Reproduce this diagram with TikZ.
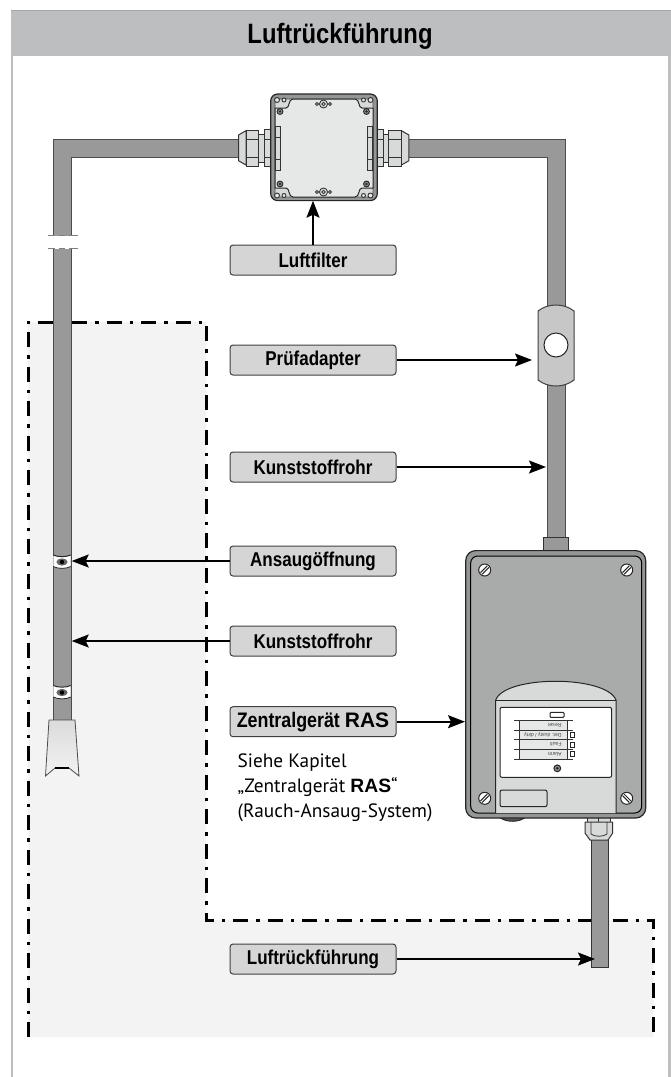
\documentclass[tikz,border=0pt]{standalone}
\usepackage{fontspec}
\usetikzlibrary{arrows.meta}
\setmainfont{Liberation Sans}
\newfontfamily\narrowf[FakeStretch=0.85]{Liberation Sans}
\newfontfamily\bodyf{PT Sans}
\definecolor{framegray}{HTML}{BDBEC0}
\definecolor{zonegray}{HTML}{F3F3F3}
\definecolor{pipegray}{HTML}{999999}
\definecolor{lablgray}{HTML}{D4D5D4}
\definecolor{casegray}{HTML}{A9ABAA}
\definecolor{bandgray}{HTML}{949695}
\definecolor{lightgray2}{HTML}{E6E7E7}
\definecolor{glandgray}{HTML}{D8D9D9}
\tikzset{
  x=1pt,y=-1pt,
  lbl/.style={draw=black!75,line width=1pt,fill=lablgray,rounded corners=3pt,minimum width=166pt,minimum height=30pt,inner sep=0pt,font=\narrowf\bfseries\fontsize{20}{24}\selectfont,text=black},
  callout/.style={line width=1.7pt,-{Stealth[length=17pt,width=13pt,inset=3pt]}},
  pipeline/.style={draw=black!70,line width=1pt},
  zoneline/.style={line width=3pt,dash pattern=on 15pt off 8pt on 3.5pt off 8pt},
  part/.style={draw=black!80,line width=1pt,fill=glandgray},
  hole/.style={draw=black!80,line width=.9pt,fill=lightgray2},
  tinytext/.style={font=\fontsize{5.1}{6}\selectfont,rotate=180,anchor=west,inner sep=0pt,text=black!75},
  pics/slotscrew/.style={code={
    \draw[line width=1pt,black!85,fill=white] (0,0) circle (6);
    \draw[line width=1pt,black!85] (-4.2,2.6)--(2.6,-4.2) (-2.6,4.2)--(4.2,-2.6);
  }},
  pics/slotscrewb/.style={code={
    \draw[line width=1pt,black!85,fill=white] (0,0) circle (6);
    \draw[line width=1pt,black!85] (4.2,2.6)--(-2.6,-4.2) (2.6,4.2)--(-4.2,-2.6);
  }},
  pics/bushole/.style={code={
    \draw[hole] (0,0) circle (4);
    \draw[hole] (0,0) circle (1.8);
    \draw[hole] (-6.5,0) circle (1.4);
    \draw[hole] (6.5,0) circle (1.4);
  }},
  pics/airhole/.style={code={
    \fill[white] (-8.7,-7) .. controls (-4,-4.8) and (4,-4.8) .. (8.7,-7) -- (8.7,4.5) .. controls (4,7) and (-4,7) .. (-8.7,4.5) -- cycle;
    \draw[black!85,line width=1pt] (-8.7,-7) .. controls (-4,-4.8) and (4,-4.8) .. (8.7,-7);
    \draw[black!85,line width=.8pt] (-8.7,4.5) .. controls (-4,7) and (4,7) .. (8.7,4.5);
    \fill[black!60] (0,0) ellipse (5.6 and 3.6);
    \fill[black] (0,0) circle (2.2);
  }}
}
\begin{document}
\begin{tikzpicture}
\useasboundingbox (0,0) rectangle (671,1077);
\fill[white] (0,0) rectangle (671,1077);
% frame and header
\fill[framegray] (11,11) rectangle (671,56);
\draw[framegray,line width=2.6pt] (12,11)--(12,1077) (669.7,11)--(669.7,1077);
\draw[black!35,line width=1pt] (11,10.5)--(671,10.5);
\node (title) at (340,36) [font=\narrowf\bfseries\fontsize{28}{32}\selectfont,inner sep=0pt] {Luftrückführung};
% zone
\fill[zonegray] (28,322)--(206,322)--(206,920)--(653.5,920)--(653.5,1037)--(28,1037)--cycle;
\draw[zoneline] (28,1037)--(28,322)--(206,322)--(206,920)--(653.5,920)--(653.5,1037);
% upper pipe
\path[fill=pipegray] (240,139.5)--(53,139.5)--(53,730)--(71,730)--(71,157.5)--(240,157.5)--cycle;
\draw[pipeline] (240,139.5)--(53,139.5)--(53,720) (71,720)--(71,157.5)--(240,157.5);
\path[fill=pipegray] (407,139.5)--(565,139.5)--(565,540)--(547,540)--(547,157.5)--(407,157.5)--cycle;
\draw[pipeline] (407,139.5)--(565,139.5)--(565,540) (547,540)--(547,157.5)--(407,157.5);
% pipe break
\fill[white] (46,235.5) rectangle (80,248.5);
\foreach \yy in {235.5,248.5}{
  \draw[black!50,line width=1pt] (48,\yy)--(55,\yy) (59,\yy)--(65,\yy) (69,\yy)--(78,\yy);
}
% air holes
\path (62,562) pic {airhole};
\path (62,692.5) pic {airhole};
% funnel
\path[draw=black!70,line width=.8pt,top color=black!14,bottom color=black!5] (49,720)--(75,720)--(79,776)--(69,768)--(55,768)--(45.5,776)--cycle;
\draw[black,line width=1.2pt] (55,768)--(69,768);
% cable glands of the junction box
\foreach \s/\o in {1/0,-1/647.4}{
  \path[part] ({\o+\s*238.5},135)--({\o+\s*246},130.7)--({\o+\s*246},165)--({\o+\s*238.5},160.7)--cycle;
  \path[part] ({\o+\s*246},130)rectangle({\o+\s*258.7},166.7);
  \draw[line width=.9pt,black!80] ({\o+\s*246},139.3)--({\o+\s*258.7},139.3) ({\o+\s*246},157.3)--({\o+\s*258.7},157.3);
  \path[part] ({\o+\s*258.7},134.3)rectangle({\o+\s*264},162.3);
  \path[part] ({\o+\s*264},129.3)rectangle({\o+\s*270.7},166.7);
  \draw[line width=.9pt,black!80] ({\o+\s*264},139.3)--({\o+\s*270.7},139.3) ({\o+\s*264},157.3)--({\o+\s*270.7},157.3);
}
\node (box) at (324,147.3) [draw=black!85,line width=1.2pt,fill=bandgray,rounded corners=7pt,minimum width=106.6pt,minimum height=106.6pt,inner sep=0pt] {};
\path[draw=black!70,line width=.8pt,fill=glandgray,rounded corners=3pt] (275,99) rectangle (373,197);
\path[draw=black!85,line width=1pt,fill=lightgray2] (275,108)--(286,108) .. controls (290,108) and (288,99) .. (293,99) -- (355,99) .. controls (360,99) and (358,108) .. (362,108) -- (373,108) -- (373,188) -- (362,188) .. controls (358,188) and (360,197) .. (355,197) -- (293,197) .. controls (288,197) and (290,188) .. (286,188) -- (275,188) -- cycle;
\foreach \xx/\rr in {277/2.5,284/2,363.5/2,370.5/2.5}{
  \draw[hole] (\xx,100) circle (\rr);
  \draw[hole] (\xx,195.5) circle (\rr);
}
\foreach \xx in {280,366.5}{
  \foreach \yy in {111.5,184}{
    \draw[black!85,line width=1pt,fill=black!40] (\xx,\yy) circle (2.9);
    \fill[black!85] (\xx,\yy) circle (1.3);
  }
}
\path (323.5,104) pic {bushole};
\path (323.5,192) pic {bushole};
\foreach \xa/\xb in {275/280,367.3/372.7}{
  \path[part] (\xa,126) rectangle (\xb,170);
  \draw[black!80,line width=.9pt] (\xa,137.7)--(\xb,137.7) (\xa,159)--(\xb,159);
}
% test adapter
\path[draw=black!75,line width=1pt,fill=black!22] (538,311) .. controls (548,303) and (564,303) .. (574,311) -- (574,380) .. controls (564,388) and (548,388) .. (538,380) -- cycle;
\draw[black!85,line width=1pt,fill=white] (556,345) circle (12);
% device
\path[draw=black!80,line width=1pt,fill=pipegray] (543.3,537.3) rectangle (568.7,551);
\path[draw=black!85,line width=1pt,fill=black!65] (498,816) .. controls (505,823) and (520,823) .. (527,816) -- cycle;
% bottom gland and pipe
\path[draw=black!80,line width=1pt,fill=pipegray] (591,836) -- (608.5,836) -- (608.5,967) -- (591,967) -- cycle;
\path[part] (587.3,816) rectangle (610,822);
\draw[black!80,line width=.9pt] (598.7,816)--(598.7,822);
\path[part] (585,822)--(612.7,822)--(612.7,833)--(608,840)--(590,840)--(585,833)--cycle;
\draw[black!80,line width=.8pt] (591,822)--(591,834) .. controls (594,837) and (604,837) .. (607,834) -- (607,822);
\node (case) at (555.7,684.3) [draw=black!85,line width=1.2pt,fill=bandgray,rounded corners=10pt,minimum width=180pt,minimum height=267.4pt,inner sep=0pt] {};
\path[draw=black,line width=1pt,fill=casegray,rounded corners=7pt] (470.7,556) rectangle (641.7,813);
\path[fill=glandgray] (495.7,813)--(495.7,700) .. controls (505,675) and (606,675) .. (616,700) -- (616,813) -- cycle;
\draw[black!85,line width=1pt] (495.7,813)--(495.7,700) .. controls (505,675) and (606,675) .. (616,700) -- (616,813);
\draw[black!85,line width=1pt] (495.7,700)--(616,700);
\path[draw=black!85,line width=1pt,fill=white,rounded corners=2pt] (500,707.3) rectangle (611.7,777.3);
\path[draw=black!85,line width=1pt,fill=white,rounded corners=1pt] (550,712.3) rectangle (564,717.3);
\fill[lightgray2] (519.3,720.7) rectangle (567.3,759.3);
\draw[black!80,line width=1pt] (519.3,720.7)--(519.3,759.3) (567.3,720.7)--(567.3,759.3);
\foreach \yy in {720.7,730,739.3,749.3,759.3}{
  \draw[black!80,line width=.9pt] (514,\yy)--(572.7,\yy);
}
\node (reset) at (561.7,725.4) [tinytext] {Reset};
\node (dusty) at (561.7,734.7) [tinytext] {Det. dusty / dirty};
\node (fault) at (561.7,744.3) [tinytext] {Fault};
\node (alarm) at (561.7,754.3) [tinytext] {Alarm};
\foreach \yy in {732.3,742,751.3}{
  \draw[black!85,line width=.9pt,fill=white] (570.7,\yy) rectangle (574.3,\yy+5.4);
}
\draw[black!85,line width=1pt,fill=black!45] (557.3,768.3) circle (3.4);
\fill[black!85] (557.3,768.3) circle (1.4);
\path[draw=black!85,line width=1pt,rounded corners=2pt,fill=glandgray] (500,790) rectangle (547,806.7);
\path (484.7,570) pic {slotscrew};
\path (626.7,570) pic {slotscrew};
\path (484.7,798.3) pic {slotscrew};
\path (626.7,798.3) pic {slotscrewb};
% labels
\node[lbl] (filter) at (313,260) {Luftfilter};
\node[lbl] (adapter) at (313,360) {Prüfadapter};
\node[lbl] (rohra) at (313,467) {Kunststoffrohr};
\node[lbl] (ansaug) at (313,561) {Ansaugöffnung};
\node[lbl] (rohrb) at (313,641) {Kunststoffrohr};
\node[lbl] (zentral) at (313,721.7) {\fontsize{21}{24}\selectfont Zentralgerät {\rmfamily\bfseries RAS}};
\node[lbl] (rueck) at (313,959) {Luftrückführung};
\node (note) at (237.5,788) [anchor=west,inner sep=0pt,align=left,font=\bodyf\fontsize{19.3}{25}\selectfont] {Siehe Kapitel\\„Zentralgerät {\rmfamily\bfseries RAS}“\\(Rauch-Ansaug-System)};
% connectors
\coordinate (tipfilter) at (313,200.7);
\coordinate (tipadapter) at (532,360);
\coordinate (tiprohra) at (546,467);
\coordinate (tipansaug) at (71.7,561);
\coordinate (tiprohrb) at (71.7,641);
\coordinate (tipzentral) at (465,721.7);
\coordinate (tiprueck) at (595,959);
\draw[callout] (filter.north)--(tipfilter);
\draw[callout] (adapter.east)--(tipadapter);
\draw[callout] (rohra.east)--(tiprohra);
\draw[callout] (ansaug.west)--(tipansaug);
\draw[callout] (rohrb.west)--(tiprohrb);
\draw[callout] (zentral.east)--(tipzentral);
\draw[callout] (rueck.east)--(tiprueck);
\end{tikzpicture}
\end{document}
